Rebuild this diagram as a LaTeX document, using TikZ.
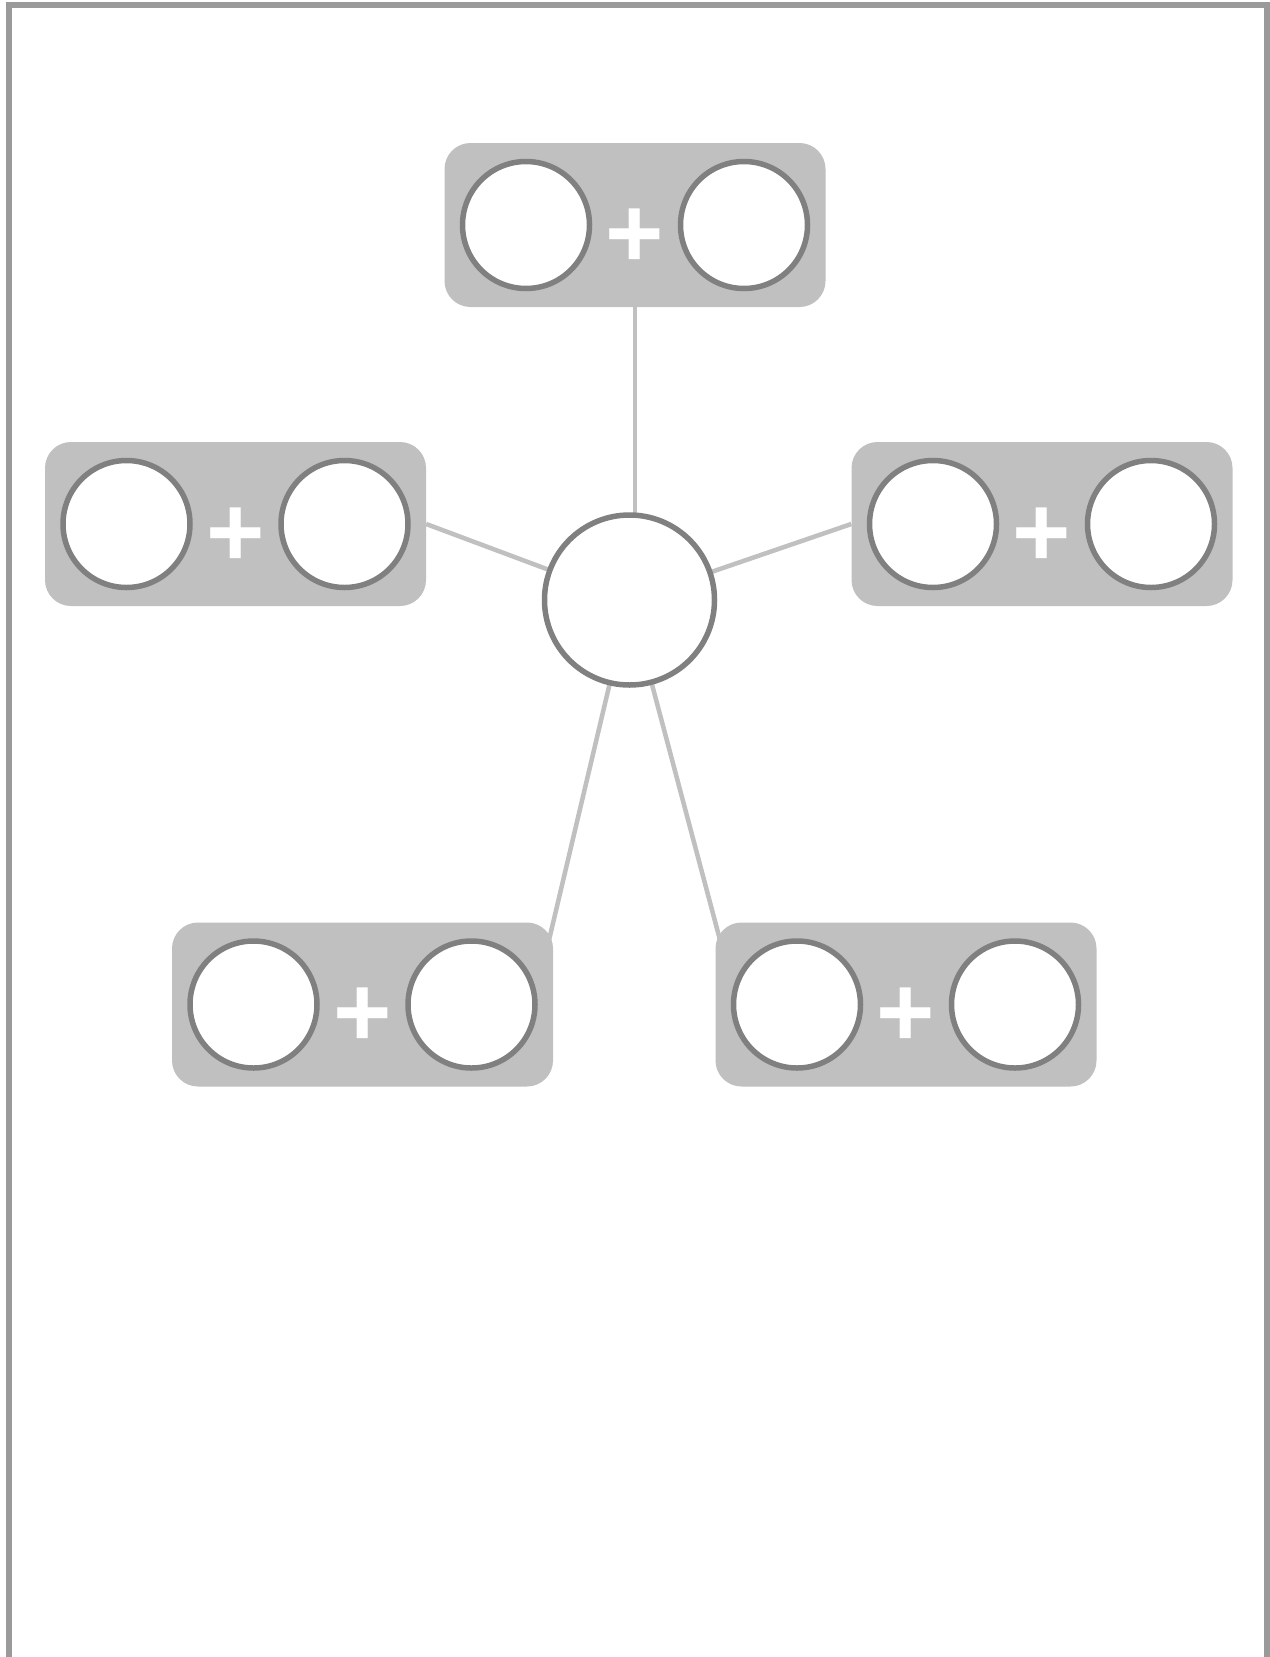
\documentclass[tikz,border=0pt]{standalone}
\usepackage{fontspec}
\newfontfamily\plusfont{Liberation Sans}
\usetikzlibrary{calc}
\pgfdeclarelayer{background}
\pgfsetlayers{background,main}
\definecolor{boxgray}{HTML}{C0C0C0}
\definecolor{ringgray}{HTML}{808080}
\definecolor{linkgray}{HTML}{C0C0C0}
\definecolor{framegray}{HTML}{9A9A9A}
\tikzset{
  pairbox/.style={draw=none, fill=boxgray, rounded corners=26pt, minimum width=381pt, minimum height=164pt, inner sep=0pt},
  ring/.style={circle, draw=ringgray, line width=5.5pt, fill=white, minimum size=127pt, inner sep=0pt},
  hub/.style={ring, minimum size=170pt},
  plussign/.style={text=white, inner sep=0pt, anchor=base, font=\plusfont\bfseries\fontsize{100}{100}\selectfont},
  link/.style={draw=linkgray, line width=4.5pt},
  pageframe/.style={draw=framegray, line width=6pt}
}
\newcommand\pairbox[3]{%
  \node[pairbox] (#1) at (#2,#3) {};
  \node[ring] (#1-a) at ($(#1.center)+(-109,0)$) {};
  \node[ring] (#1-b) at ($(#1.center)+(109,0)$) {};
  \node[plussign] (#1-p) at ($(#1.center)+(0,42)$) {+};
}
\begin{document}
\begin{tikzpicture}[x=1pt,y=-1pt]
\useasboundingbox (0,0) rectangle (1269,1657);
\draw[pageframe] (9,1660) -- (9,5) -- (1267,5) -- (1267,1660);
\pairbox{top}{635}{225}
\pairbox{left}{235.5}{524}
\pairbox{right}{1042}{524}
\pairbox{bl}{362.5}{1004.5}
\pairbox{br}{906}{1004.5}
\node[hub] (c) at (629.5,600) {};
\begin{pgfonlayer}{background}
\fill[white] (0,0) rectangle (1269,1657);
\draw[link] (top.south) -- (top.south |- c.center);
\draw[link] (c.center) -- (left.east);
\draw[link] (c.center) -- (right.west);
\draw[link, shorten >=-30pt] (c.center) -- (bl.north east);
\draw[link, shorten >=-30pt] (c.center) -- (br.north west);
\end{pgfonlayer}
\end{tikzpicture}
\end{document}
